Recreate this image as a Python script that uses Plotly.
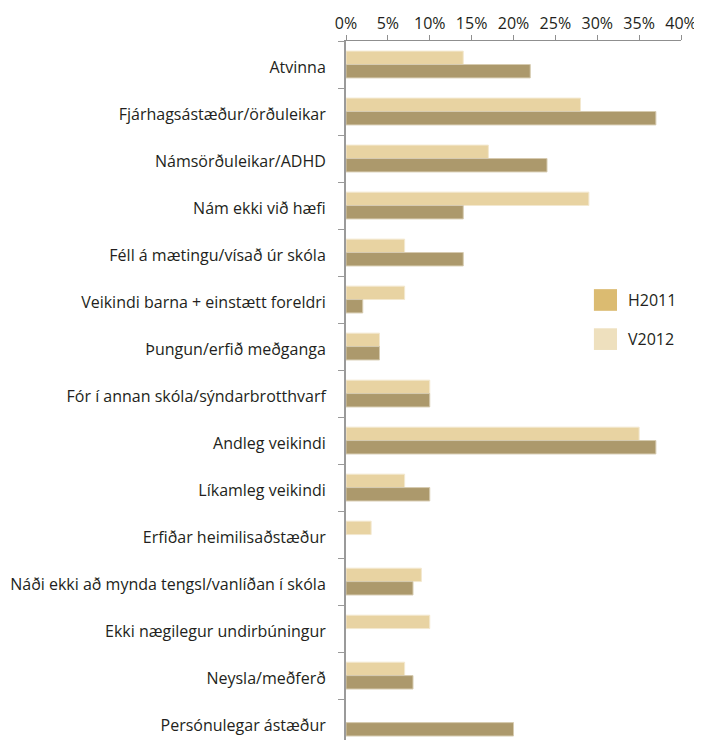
import plotly.graph_objects as go

categories = [
    "Atvinna",
    "Fjárhagsástæður/örðuleikar",
    "Námsörðuleikar/ADHD",
    "Nám ekki við hæfi",
    "Féll á mætingu/vísað úr skóla",
    "Veikindi barna + einstætt foreldri",
    "Þungun/erfið meðganga",
    "Fór í annan skóla/sýndarbrotthvarf",
    "Andleg veikindi",
    "Líkamleg veikindi",
    "Erfiðar heimilisaðstæður",
    "Náði ekki að mynda tengsl/vanlíðan í skóla",
    "Ekki nægilegur undirbúningur",
    "Neysla/meðferð",
    "Persónulegar ástæður",
]
v2012 = [14, 28, 17, 29, 7, 7, 4, 10, 35, 7, 3, 9, 10, 7, None]
h2011 = [22, 37, 24, 14, 14, 2, 4, 10, 37, 10, None, 8, None, 8, 20]
x_ticks = [0, 5, 10, 15, 20, 25, 30, 35, 40]
x_tick_labels = ["0%", "5%", "10%", "15%", "20%", "25%", "30%", "35%", "40%"]
series_names = ["H2011", "V2012"]

FONT = "Open Sans, Noto Sans, sans-serif"
TXT = "#231F20"
FS = 16
C_V_BAR = "#E8D3A2"
C_H_BAR = "#AC996C"
C_H_LEG = "#DBBB71"
C_V_LEG = "#EEE0BE"

fig = go.Figure()
fig.add_trace(go.Bar(
    y=categories, x=v2012, orientation="h", name="V2012",
    marker=dict(color=C_V_BAR, line=dict(color="#F3E8CF", width=1)),
    showlegend=False,
))
fig.add_trace(go.Bar(
    y=categories, x=h2011, orientation="h", name="H2011",
    marker=dict(color=C_H_BAR, line=dict(color="#D6CBB0", width=1)),
    showlegend=False,
))

# legend drawn manually (swatch colours differ from bar colours)
leg = [
    (series_names[0], C_H_LEG, 0.645, 0.614, 0.630),
    (series_names[1], C_V_LEG, 0.589, 0.558, 0.574),
]
for name, col, y0, y1, yt in leg:
    fig.add_shape(type="rect", xref="paper", yref="paper",
                  x0=0.740, x1=0.809, y0=y1, y1=y0,
                  fillcolor=col, line=dict(width=0))
    fig.add_annotation(xref="paper", yref="paper", x=0.836, y=yt,
                       text=name, showarrow=False, xanchor="left",
                       yanchor="middle",
                       font=dict(family=FONT, size=FS, color=TXT))

fig.update_layout(
    width=694, height=732,
    margin=dict(l=338, r=21, t=33, b=0),
    paper_bgcolor="white", plot_bgcolor="white",
    barmode="group", bargap=0.43, bargroupgap=0,
    font=dict(family=FONT, size=FS, color=TXT),
    xaxis=dict(
        side="top", range=[0, 40], tickvals=x_ticks, ticktext=x_tick_labels,
        showgrid=False, zeroline=False, showline=True, linecolor="#8f8f8f",
        linewidth=1, ticks="outside", ticklen=5, tickcolor="#8f8f8f",
        tickfont=dict(family=FONT, size=FS, color=TXT),
        fixedrange=True, automargin=False,
    ),
    yaxis=dict(
        type="category", categoryorder="array", categoryarray=categories,
        range=[14.37, -0.5], showgrid=False, zeroline=False,
        showline=True, linecolor="#9a9a9a", linewidth=2,
        ticks="outside", tickson="boundaries", ticklen=6, tickcolor="#9a9a9a",
        tickwidth=1, ticklabelstandoff=15, ticklabelshift=-3,
        tickfont=dict(family=FONT, size=FS, color=TXT),
        fixedrange=True, automargin=False,
    ),
)

fig.write_html("out.html")
